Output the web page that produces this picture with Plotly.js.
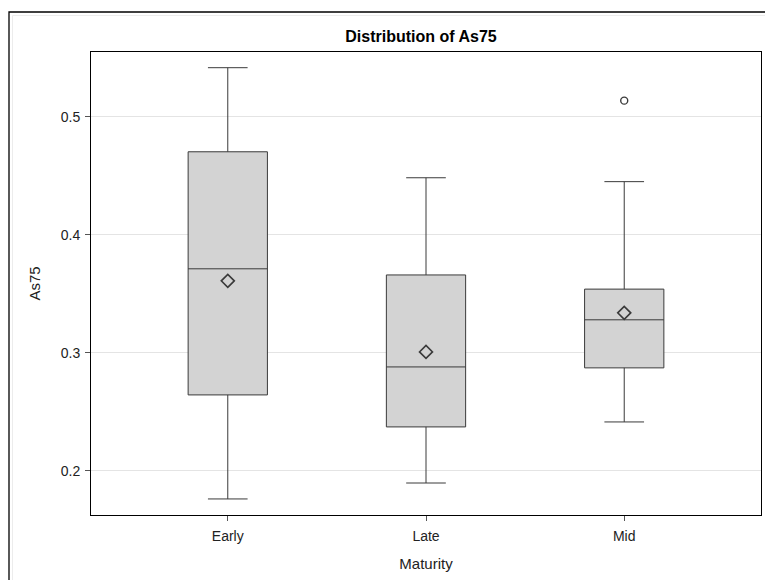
<!DOCTYPE html>
<html>
<head>
<meta charset="utf-8">
<script src="https://cdn.plot.ly/plotly-3.0.1.min.js"></script>
<style>
  html, body { margin: 0; padding: 0; background: #fff; }
  #chart { width: 765px; height: 580px; }
</style>
</head>
<body>
<div id="chart"></div>
<script>
// Maturity groups and their As75 summary statistics
const categories = ['Early', 'Late', 'Mid'];
const lowerWhisker = [0.1763, 0.1898, 0.2415];
const q1Values     = [0.2644, 0.2373, 0.2873];
const medianValues = [0.3712, 0.2881, 0.3280];
const q3Values     = [0.4703, 0.3660, 0.3540];
const upperWhisker = [0.5415, 0.4483, 0.4450];
const meanValues   = [0.3610, 0.3008, 0.3339];

// Observations beyond the whiskers
const outlierGroups = ['Mid'];
const outlierValues = [0.5136];

const ink = '#3a3a3a';
const fontFamily = 'Liberation Sans, Arial, sans-serif';

const boxes = {
  type: 'box',
  x: categories,
  q1: q1Values,
  median: medianValues,
  q3: q3Values,
  lowerfence: lowerWhisker,
  upperfence: upperWhisker,
  boxpoints: false,
  width: 0.4,
  whiskerwidth: 0.5,
  fillcolor: '#d3d3d3',
  line: { color: ink, width: 1 },
  hoverinfo: 'y',
  showlegend: false
};

const means = {
  type: 'scatter',
  mode: 'markers',
  x: categories,
  y: meanValues,
  marker: { symbol: 'diamond-open', size: 10, color: ink, line: { width: 1.6, color: ink } },
  showlegend: false
};

const outliers = {
  type: 'scatter',
  mode: 'markers',
  x: outlierGroups,
  y: outlierValues,
  marker: { symbol: 'circle-open', size: 7, color: ink, line: { width: 1.4, color: ink } },
  showlegend: false
};

const layout = {
  width: 765,
  height: 580,
  margin: { l: 91, r: 4, t: 52, b: 65, pad: 0 },
  paper_bgcolor: '#ffffff',
  plot_bgcolor: '#ffffff',
  font: { family: fontFamily, size: 14, color: '#222' },
  title: {
    text: '<b>Distribution of As75</b>',
    font: { family: fontFamily, size: 16, color: '#000' },
    xref: 'container',
    x: 421 / 765, xanchor: 'center',
    y: 1 - 36 / 580, yanchor: 'middle'
  },
  xaxis: {
    type: 'category',
    range: [-0.69, 2.69],
    showgrid: false,
    zeroline: false,
    ticks: 'outside',
    ticklen: 5,
    ticklabelstandoff: 3,
    tickcolor: '#555',
    tickfont: { size: 14, color: '#222' },
    showline: true, linecolor: '#000', linewidth: 1, mirror: true,
    title: { text: 'Maturity', font: { size: 15, color: '#222' }, standoff: 15 }
  },
  yaxis: {
    range: [0.1627, 0.5548],
    tickvals: [0.2, 0.3, 0.4, 0.5],
    ticktext: ['0.2', '0.3', '0.4', '0.5'],
    showgrid: true,
    gridcolor: '#e4e4e4',
    gridwidth: 1,
    zeroline: false,
    ticks: 'outside',
    ticklen: 5,
    ticklabelstandoff: 2,
    tickcolor: '#555',
    tickfont: { size: 14, color: '#222' },
    showline: true, linecolor: '#000', linewidth: 1, mirror: true,
    title: { text: 'As75', font: { size: 15, color: '#222' }, standoff: 16 }
  },
  shapes: [
    // outer frame around the graph
    {
      type: 'rect', xref: 'paper', yref: 'paper',
      x0: (9 - 91) / 670, x1: 1.2, y0: -0.3, y1: (515 - 12) / 463,
      line: { color: '#000', width: 1.3 }, fillcolor: 'rgba(0,0,0,0)', layer: 'below'
    },
    {
      type: 'rect', xref: 'paper', yref: 'paper',
      x0: (12.5 - 91) / 670, x1: 1.2, y0: -0.3, y1: (515 - 15.5) / 463,
      line: { color: '#ececec', width: 1 }, fillcolor: 'rgba(0,0,0,0)', layer: 'below'
    }
  ]
};

Plotly.newPlot('chart', [boxes, means, outliers], layout, { displayModeBar: false, staticPlot: true });
</script>
</body>
</html>
